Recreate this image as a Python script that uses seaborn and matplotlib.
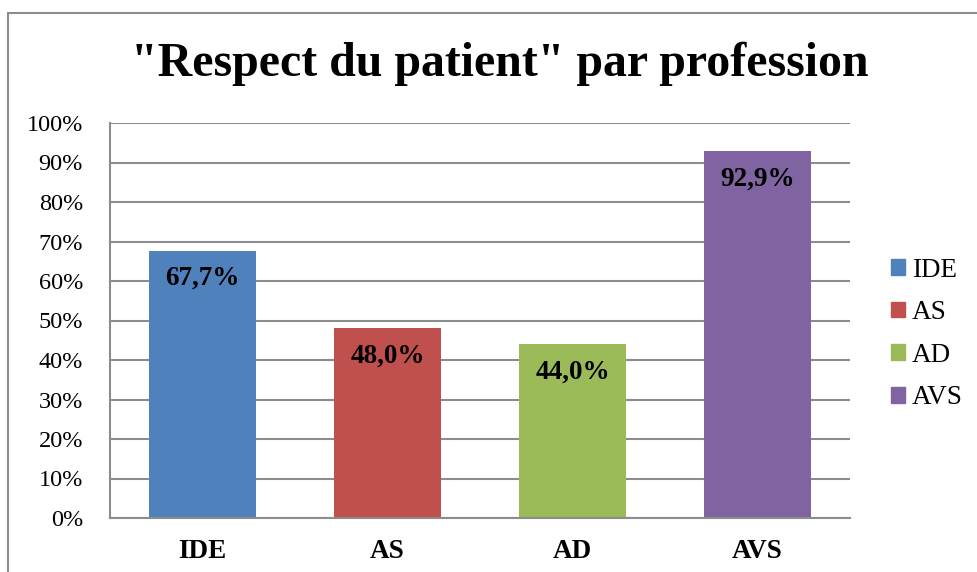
import pandas as pd
import matplotlib.pyplot as plt
import matplotlib.patches as mpatches
import seaborn as sns

# data
professions = ["IDE", "AS", "AD", "AVS"]
values = [67.7, 48.0, 44.0, 92.9]
colors = ["#4F81BD", "#C0504D", "#9BBB59", "#8064A2"]
y_ticks = [0, 10, 20, 30, 40, 50, 60, 70, 80, 90, 100]

df = pd.DataFrame({"Profession": professions, "Valeur": values})

sns.set_style("white")
plt.rcParams['font.family'] = ['Liberation Serif', 'DejaVu Serif']
plt.rcParams['text.color'] = 'black'
plt.rcParams['xtick.color'] = 'black'
plt.rcParams['ytick.color'] = 'black'

fig = plt.figure(figsize=(9.77, 5.72), dpi=100)
ax = fig.add_axes([110 / 977, 1 - 518 / 572, 740 / 977, 395 / 572])

sns.barplot(data=df, x="Profession", y="Valeur", hue="Profession",
            palette=colors, width=0.575, saturation=1, legend=False,
            linewidth=0, ax=ax)

ax.set_ylim(0, 100)
ax.set_yticks(y_ticks)
ax.set_yticklabels([f"{t}%" for t in y_ticks], fontsize=17.5)
ax.set_xticks(range(len(professions)))
ax.set_xticklabels(professions, fontsize=19.5, fontweight="bold")
ax.tick_params(axis="y", length=0, pad=19.5)
ax.tick_params(axis="x", length=0, pad=15)
ax.set_xlabel("")
ax.set_ylabel("")

ax.yaxis.grid(True, color="#8c8c8c", linewidth=1.5)
ax.set_axisbelow(True)
for side in ["top", "right"]:
    ax.spines[side].set_visible(False)
for side in ["left", "bottom"]:
    ax.spines[side].set_color("#8c8c8c")
    ax.spines[side].set_linewidth(1.5)

# value labels inside the bars
for i, v in enumerate(values):
    ax.text(i, v - 7, f"{v:.1f}%".replace(".", ","), ha="center", va="center",
            fontsize=19.5, fontweight="bold", color="black")

fig.text(500 / 977, 1 - 64 / 572, "\"Respect du patient\" par profession",
         ha="center", va="center", fontsize=34.5, fontweight="bold")

handles = [mpatches.Patch(color=c, label=p) for p, c in zip(professions, colors)]
fig.legend(handles=handles, loc="center left", bbox_to_anchor=(867 / 977, 1 - 334 / 572),
           frameon=False, fontsize=19.5, handlelength=0.52, handleheight=0.52,
           handletextpad=0.25, labelspacing=0.65)

# chart border, cut off by the image edge on the right and bottom
fig.patches.append(mpatches.Rectangle((8 / 977, -0.1), 1.2, 1 - 13 / 572 + 0.1,
                                      transform=fig.transFigure, fill=False,
                                      edgecolor="#8c8c8c", linewidth=1.5))

fig.savefig("out.png", dpi=100)
